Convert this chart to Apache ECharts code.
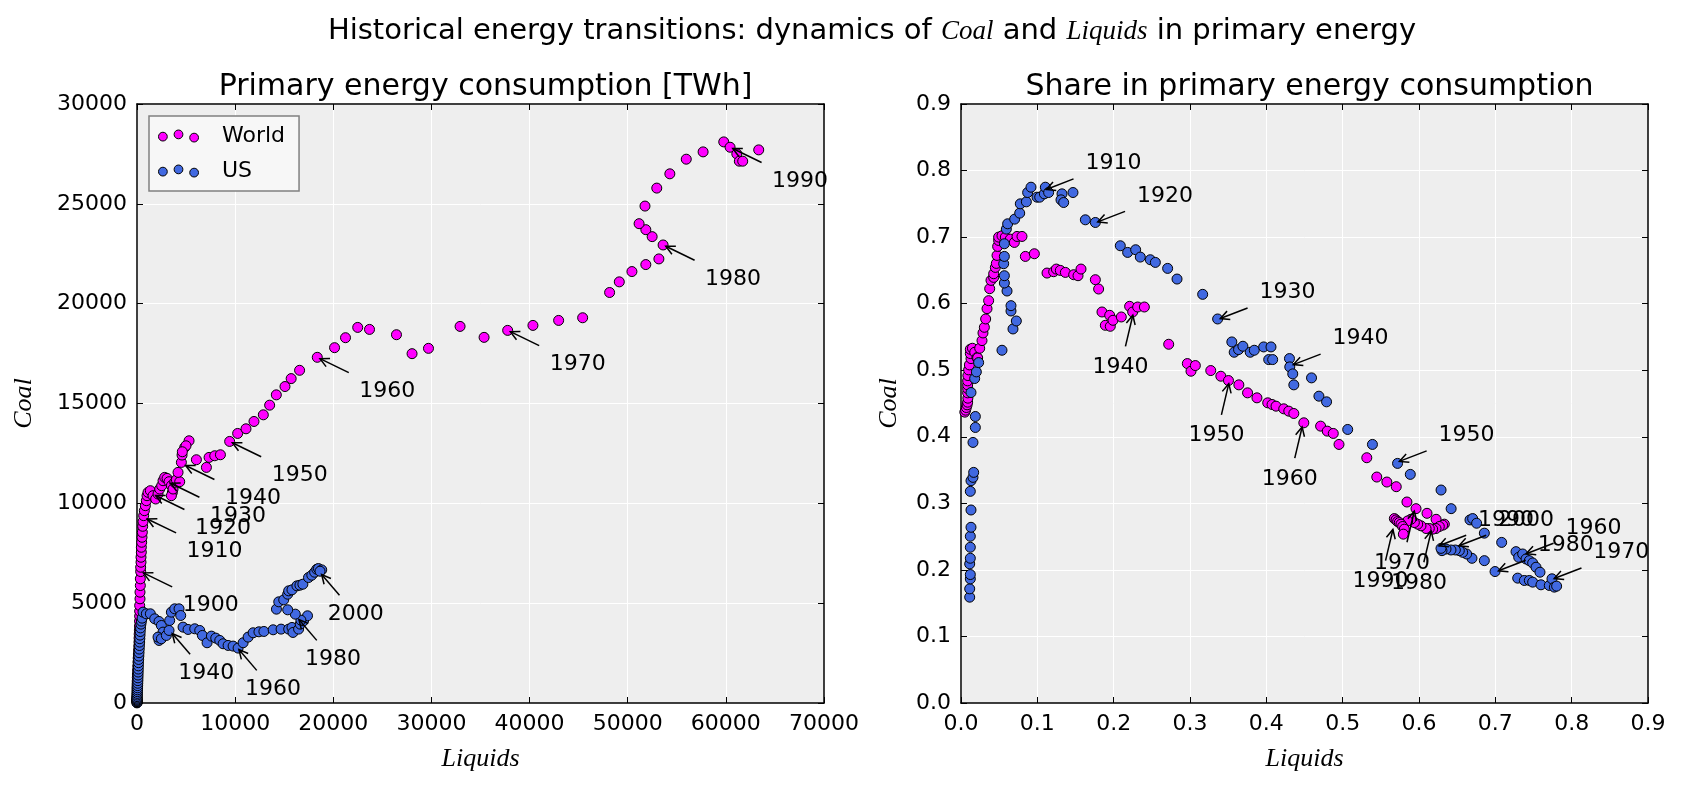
<!DOCTYPE html>
<html>
<head>
<meta charset="utf-8">
<title>Coal and Liquids</title>
<script src="https://cdn.jsdelivr.net/npm/echarts@6/dist/echarts.min.js"></script>
<style>
html, body { margin: 0; padding: 0; background: #fff; }
#main { width: 1683px; height: 788px; }
</style>
</head>
<body>
<div id="main"></div>
<script>
// [liquids, coal] in TWh
const worldTWh = [
	[0, 97], [0, 120], [0, 150], [0, 190], [0, 240], [0, 300], [0, 380], [0, 470], [0, 570], [0, 680],
	[0, 800], [10, 950], [20, 1100], [30, 1280], [40, 1450], [60, 1650], [80, 1850], [100, 2050], [120, 2250], [140, 2450],
	[160, 2650], [180, 2850], [200, 3050], [210, 3250], [220, 3450], [240, 3650], [250, 3850], [260, 4100], [270, 4350], [270, 4600],
	[272, 4883], [306, 5217], [306, 5550], [340, 5883], [340, 6217],
	[374, 6583], [374, 6800], [408, 7050], [408, 7300], [442, 7550], [442, 7800], [476, 8050], [510, 8300], [544, 8550], [578, 8850], [612, 9083],
	[680, 9383], [748, 9633], [850, 9883], [952, 10133], [1020, 10383], [1122, 10550], [1360, 10633], [1632, 10383], [1904, 10217], [2142, 10467],
	[2312, 10717], [2516, 10883], [2652, 11133], [2822, 11300], [3060, 11250], [3264, 11083], [3502, 10883], [3604, 10550], [3502, 10383], [3672, 10717],
	[3842, 11050], [4012, 11183], [4352, 11083], [4182, 11550], [4522, 12050], [4590, 12417], [4862, 12800], [5304, 13133], [4992, 12883], [4619, 12583],
	[6052, 12183], [7072, 11800], [7344, 12300], [7922, 12383], [8500, 12433],
	[9441, 13100], [10256, 13500], [11105, 13733], [11920, 14100], [12871, 14433], [13516, 14917], [14195, 15433], [15078, 15850], [15708, 16247], [16567, 16663],
	[18369, 17313], [20129, 17796], [21245, 18295], [22489, 18811], [23691, 18711], [26438, 18445], [28026, 17496], [29700, 17762], [32918, 18861], [35365, 18312],
	[37768, 18662], [40343, 18911], [42961, 19161], [45408, 19294], [48155, 20560], [49142, 21092], [50429, 21608], [51845, 21958], [53176, 22241],
	[53605, 22940], [52489, 23357], [51845, 23706], [51159, 24006], [51760, 24888], [52961, 25788], [54292, 26503], [55966, 27236], [57682, 27602], [59785, 28102],
	[60429, 27835], [61116, 27502], [61373, 27136], [61717, 27136], [63348, 27702]
];

const usTWh = [
	[0, 5], [0, 20], [0, 40], [0, 70], [0, 100], [0, 140], [0, 190], [0, 250], [10, 320], [20, 400],
	[30, 480], [40, 570], [50, 660], [60, 760], [70, 870], [80, 990], [90, 1120], [100, 1260], [110, 1400], [120, 1550],
	[130, 1700], [140, 1860], [150, 2020], [170, 2180], [190, 2350], [210, 2520], [230, 2700], [250, 2880], [270, 3050], [290, 3220],
	[310, 3400], [330, 3580], [360, 3760], [400, 3950], [450, 4100], [520, 4250], [612, 4550],
	[952, 4467], [1360, 4467], [1802, 4217], [2244, 4083], [2482, 3883], [2652, 3550], [2244, 3133], [2142, 3300], [2482, 3217], [2992, 3383],
	[3264, 3633], [3332, 4133], [3502, 4550], [3842, 4717], [4284, 4717], [4454, 4383], [4692, 3800], [5202, 3683], [5882, 3717], [6392, 3633],
	[6664, 3383], [7140, 3017], [7582, 3350], [8024, 3250], [8432, 3133], [8772, 2967], [9282, 2883], [9792, 2850], [10302, 2750], [10812, 3017],
	[11322, 3300], [11832, 3517], [12424, 3566], [12929, 3583], [13872, 3667], [14680, 3700], [15455, 3700], [15791, 3783], [15892, 3533], [16465, 3700],
	[16633, 3950], [16970, 4117], [17374, 4367], [16700, 4150], [16128, 4450], [15354, 4667], [14209, 4700], [14444, 5067], [14949, 5167], [15354, 5450],
	[15455, 5617], [15791, 5667], [16296, 5867], [16600, 5900], [16902, 5950], [17475, 6283], [17811, 6400], [18100, 6550], [18316, 6700], [18485, 6733],
	[18822, 6667], [18650, 6600]
];

// [liquids share, coal share]
const worldShare = [
	[0.005, 0.437], [0.006, 0.440], [0.007, 0.444], [0.008, 0.448], [0.0087, 0.452], [0.009, 0.458], [0.0087, 0.466], [0.0087, 0.4725], [0.0087, 0.478], [0.0087, 0.484],
	[0.009, 0.492], [0.01, 0.5005], [0.011, 0.508], [0.0131, 0.5175], [0.0122, 0.525], [0.0122, 0.5315], [0.015, 0.533], [0.018, 0.527], [0.021, 0.519], [0.0218, 0.5185],
	[0.0245, 0.533], [0.0275, 0.5445], [0.0288, 0.556], [0.0306, 0.5645], [0.0323, 0.577], [0.0341, 0.5925], [0.0362, 0.6045], [0.0376, 0.6225], [0.0393, 0.635], [0.0428, 0.6395],
	[0.0428, 0.645], [0.045, 0.6545], [0.0463, 0.6605], [0.0472, 0.6725], [0.048, 0.686], [0.0493, 0.695], [0.0493, 0.700], [0.0537, 0.702], [0.0581, 0.700], [0.0646, 0.697],
	[0.0699, 0.692], [0.0734, 0.701], [0.0799, 0.701], [0.0843, 0.671], [0.0961, 0.675], [0.1127, 0.646], [0.1214, 0.648], [0.1249, 0.652], [0.1301, 0.650], [0.1367, 0.647],
	[0.1476, 0.6435], [0.1533, 0.642], [0.1572, 0.652], [0.176, 0.636], [0.1803, 0.622], [0.1847, 0.5875], [0.1948, 0.5825], [0.1891, 0.5675], [0.1956, 0.566], [0.1991, 0.575],
	[0.21, 0.58], [0.2209, 0.596], [0.2249, 0.5875], [0.2314, 0.595], [0.2402, 0.595], [0.2721, 0.539], [0.2965, 0.51], [0.3013, 0.4985], [0.3070, 0.507], [0.3272, 0.4995],
	[0.3404, 0.491], [0.3504, 0.4845], [0.3640, 0.478], [0.3754, 0.466], [0.3877, 0.4585], [0.4018, 0.451], [0.4075, 0.4485], [0.4127, 0.446], [0.4228, 0.442], [0.4294, 0.4385],
	[0.4360, 0.435], [0.4491, 0.421], [0.4711, 0.416], [0.4798, 0.4085], [0.4877, 0.405], [0.4952, 0.3885], [0.5316, 0.3685], [0.5447, 0.3395], [0.5579, 0.332], [0.5702, 0.325],
	[0.5842, 0.302], [0.5961, 0.292], [0.6105, 0.285], [0.6224, 0.276], [0.6332, 0.2687], [0.631, 0.2672], [0.6266, 0.2652], [0.6223, 0.2622], [0.6179, 0.2612], [0.6135, 0.2622],
	[0.6092, 0.2622], [0.6026, 0.2662], [0.5983, 0.2687], [0.5939, 0.2711], [0.5895, 0.2761], [0.5852, 0.2736], [0.5677, 0.2771], [0.5699, 0.2751], [0.572, 0.2726], [0.5742, 0.2711],
	[0.5764, 0.2687], [0.5786, 0.2652], [0.5808, 0.2612], [0.5795, 0.2537]
];

const usShare = [
	[0.0114, 0.159], [0.0114, 0.1715], [0.0122, 0.1865], [0.0122, 0.193], [0.0114, 0.209], [0.0122, 0.2175], [0.0122, 0.234], [0.0122, 0.2505], [0.0131, 0.264], [0.0131, 0.29],
	[0.0122, 0.318], [0.0131, 0.334], [0.0157, 0.339], [0.0166, 0.3465], [0.0157, 0.3915], [0.0188, 0.414], [0.0188, 0.4305], [0.0131, 0.4665], [0.0179, 0.4875], [0.0201, 0.4975],
	[0.0231, 0.5115], [0.0537, 0.530], [0.0681, 0.562], [0.0725, 0.574], [0.0655, 0.589], [0.0655, 0.597], [0.0603, 0.619], [0.0568, 0.631], [0.0568, 0.642], [0.0559, 0.660],
	[0.0568, 0.671], [0.0568, 0.690], [0.0594, 0.712], [0.0611, 0.720], [0.0703, 0.727], [0.0769, 0.736], [0.0777, 0.750], [0.0856, 0.753], [0.0873, 0.767], [0.0917, 0.775],
	[0.0996, 0.760], [0.1031, 0.760], [0.1092, 0.765], [0.1105, 0.775], [0.1148, 0.767], [0.1323, 0.765], [0.1310, 0.756], [0.1345, 0.752], [0.1467, 0.767], [0.1629, 0.726],
	[0.1760, 0.722], [0.2087, 0.687], [0.2183, 0.677], [0.2288, 0.681], [0.2349, 0.670], [0.2480, 0.666], [0.2546, 0.662], [0.2707, 0.653], [0.2830, 0.637], [0.3166, 0.614],
	[0.3362, 0.577], [0.3548, 0.5425], [0.3579, 0.527], [0.3636, 0.531], [0.3693, 0.536], [0.3789, 0.527], [0.3842, 0.530], [0.3965, 0.535], [0.4061, 0.535], [0.4031, 0.516],
	[0.4083, 0.516], [0.4303, 0.5175], [0.4307, 0.505], [0.4346, 0.4945], [0.4360, 0.478], [0.4592, 0.4885], [0.4689, 0.461], [0.4789, 0.4525], [0.5066, 0.411], [0.5390, 0.3885],
	[0.5719, 0.360], [0.5886, 0.3435], [0.6289, 0.320], [0.6421, 0.292], [0.6668, 0.2751], [0.6703, 0.2771], [0.6755, 0.2701], [0.6856, 0.2552], [0.7083, 0.2413], [0.7271, 0.2274],
	[0.7306, 0.2189], [0.7358, 0.2239], [0.7402, 0.2164], [0.7445, 0.2139], [0.7489, 0.2104], [0.7533, 0.204], [0.7585, 0.1965], [0.7293, 0.1876], [0.738, 0.1841], [0.7445, 0.1841],
	[0.7489, 0.1816], [0.7598, 0.1776], [0.7707, 0.1766], [0.7742, 0.1866], [0.7773, 0.1741], [0.7803, 0.1756], [0.6996, 0.1975], [0.6856, 0.2139], [0.6694, 0.2174], [0.6624, 0.2239],
	[0.6572, 0.2264], [0.6528, 0.2289], [0.6476, 0.2299], [0.6419, 0.2299], [0.6354, 0.2313], [0.6301, 0.2289], [0.6288, 0.2323]
];

// annotated years: [liquids, coal, label]
const worldTWhYears = [
	[374, 6583, '1900'], [775, 9283, '1910'], [1622, 10456, '1920'], [3150, 11072, '1930'], [4679, 11960, '1940'],
	[9441, 13100, '1950'], [18369, 17313, '1960'], [37768, 18662, '1970'], [53605, 22940, '1980'], [60429, 27835, '1990']
];
const usTWhYears = [[3395, 3593, '1940'], [10184, 2791, '1960'], [16300, 4294, '1980'], [18614, 6548, '2000']];
const worldShareYears = [
	[0.226, 0.587, '1940'], [0.3517, 0.4842, '1950'], [0.4478, 0.4191, '1960'],
	[0.5948, 0.2928, '1970'], [0.6169, 0.2627, '1980'], [0.5667, 0.2651, '1990']
];
const usShareYears = [
	[0.108, 0.770, '1910'], [0.1755, 0.7212, '1920'], [0.336, 0.576, '1930'], [0.4317, 0.5068, '1940'], [0.5706, 0.3614, '1950'],
	[0.7368, 0.2226, '1960'], [0.7734, 0.1854, '1970'], [0.7004, 0.197, '1980'], [0.6224, 0.2346, '1990'], [0.6486, 0.2346, '2000']
];

const magenta = '#ff00ff';
const royal = '#4169e1';
const threeDots = 'path://M0.5,7.3a4.5,4.5 0 1,0 9,0a4.5,4.5 0 1,0 -9,0zM16.5,5a4.5,4.5 0 1,0 9,0a4.5,4.5 0 1,0 -9,0zM32.5,8.3a4.5,4.5 0 1,0 9,0a4.5,4.5 0 1,0 -9,0z';

var chart = echarts.init(document.getElementById('main'), null, { width: 1683, height: 788 });

function dot(color) {
	return { color: color, borderColor: '#000', borderWidth: 1, opacity: 1 };
}

function mainAxis(grid, pos, max, step, digits, nameGap) {
	return {
		type: 'value', gridIndex: grid, position: pos, min: 0, max: max, interval: step,
		name: pos === 'bottom' ? 'Liquids' : 'Coal',
		nameLocation: 'middle', nameGap: nameGap,
		nameTextStyle: { fontFamily: 'Liberation Serif', fontStyle: 'italic', fontSize: 26, color: '#000' },
		axisLine: { show: true, onZero: false, lineStyle: { color: '#000', width: 1.5 } },
		axisTick: { show: true, inside: true, length: 6, lineStyle: { color: '#000', width: 1 } },
		axisLabel: {
			margin: 10, fontSize: 22, color: '#000', fontFamily: 'DejaVu Sans',
			formatter: function (v) { return v.toFixed(digits); }
		},
		splitLine: { show: true, lineStyle: { color: '#fff', width: 1 } }
	};
}

function mirrorAxis(grid, pos, max, step) {
	return {
		type: 'value', gridIndex: grid, position: pos, min: 0, max: max, interval: step,
		axisLine: { show: true, onZero: false, lineStyle: { color: '#000', width: 1.5 } },
		axisTick: { show: true, inside: true, length: 6, lineStyle: { color: '#000', width: 1 } },
		axisLabel: { show: false },
		splitLine: { show: false }
	};
}

// text placed at (tx, ty) px from the point, arrow "->" running from part way toward the point
function annotations(items, xi, yi, tx, ty, f) {
	return {
		type: 'custom', xAxisIndex: xi, yAxisIndex: yi, clip: false, silent: true, z: 5,
		data: items.map(function (d) { return [d[0], d[1]]; }),
		renderItem: function (params, api) {
			var p = api.coord([api.value(0), api.value(1)]);
			var sx = p[0] + tx * f, sy = p[1] + ty * f;
			var dx = p[0] - sx, dy = p[1] - sy;
			var len = Math.sqrt(dx * dx + dy * dy);
			dx /= len; dy /= len;
			var ex = p[0] - dx * 3, ey = p[1] - dy * 3;
			var bx = ex - dx * 9, by = ey - dy * 9;
			return {
				type: 'group',
				children: [{
					type: 'line',
					shape: { x1: sx, y1: sy, x2: ex, y2: ey },
					style: { stroke: '#000', lineWidth: 1.5 }
				}, {
					type: 'polyline',
					shape: { points: [[bx - dy * 4.5, by + dx * 4.5], [ex, ey], [bx + dy * 4.5, by - dx * 4.5]] },
					style: { stroke: '#000', lineWidth: 1.5, fill: null }
				}, {
					type: 'text',
					style: {
						text: items[params.dataIndex][2], x: p[0] + tx, y: p[1] + ty,
						align: 'center', verticalAlign: 'middle',
						fontSize: 22, fontFamily: 'DejaVu Sans', fill: '#000'
					}
				}]
			};
		}
	};
}

option = {
	backgroundColor: '#fff',
	animation: false,
	title: [{
		text: '{n|Historical energy transitions: dynamics of }{m|Coal}{n| and }{m|Liquids}{n| in primary energy}',
		left: 867, top: 12, textAlign: 'center',
		textStyle: {
			fontWeight: 'normal',
			rich: {
				n: { fontSize: 29, fontWeight: 'normal', fontFamily: 'DejaVu Sans', color: '#000' },
				m: { fontSize: 27, fontWeight: 'normal', fontFamily: 'Liberation Serif', fontStyle: 'italic', color: '#000' }
			}
		}
	}, {
		text: 'Primary energy consumption [TWh]',
		left: 480.5, top: 67, textAlign: 'center',
		textStyle: { fontSize: 30, fontWeight: 'normal', fontFamily: 'DejaVu Sans', color: '#000' }
	}, {
		text: 'Share in primary energy consumption',
		left: 1304.5, top: 67, textAlign: 'center',
		textStyle: { fontSize: 30, fontWeight: 'normal', fontFamily: 'DejaVu Sans', color: '#000' }
	}],
	legend: {
		data: [
			{ name: 'World', icon: threeDots, itemStyle: dot(magenta) },
			{ name: 'US', icon: threeDots, itemStyle: dot(royal) }
		],
		orient: 'vertical', left: 149, top: 116,
		padding: [8, 14, 8, 9], itemGap: 11, itemWidth: 41, itemHeight: 12,
		backgroundColor: '#f7f7f7', borderColor: '#808080', borderWidth: 1.5,
		selectedMode: false,
		textStyle: { fontSize: 22, fontFamily: 'DejaVu Sans', color: '#000', lineHeight: 24, padding: [0, 0, 0, 18] }
	},
	grid: [
		{ left: 137, top: 104, width: 687, height: 599, show: true, backgroundColor: '#eeeeee', borderWidth: 0 },
		{ left: 961, top: 104, width: 687, height: 599, show: true, backgroundColor: '#eeeeee', borderWidth: 0 }
	],
	xAxis: [
		mainAxis(0, 'bottom', 70000, 10000, 0, 43),
		mirrorAxis(0, 'top', 70000, 10000),
		mainAxis(1, 'bottom', 0.9, 0.1, 1, 43),
		mirrorAxis(1, 'top', 0.9, 0.1)
	],
	yAxis: [
		mainAxis(0, 'left', 30000, 5000, 0, 100),
		mirrorAxis(0, 'right', 30000, 5000),
		mainAxis(1, 'left', 0.9, 0.1, 1, 59),
		mirrorAxis(1, 'right', 0.9, 0.1)
	],
	series: [
		{ name: 'World', type: 'scatter', xAxisIndex: 0, yAxisIndex: 0, symbolSize: 10, itemStyle: dot(magenta), data: worldTWh },
		{ name: 'US', type: 'scatter', xAxisIndex: 0, yAxisIndex: 0, symbolSize: 10, itemStyle: dot(royal), data: usTWh },
		{ name: 'World', type: 'scatter', xAxisIndex: 2, yAxisIndex: 2, symbolSize: 10, itemStyle: dot(magenta), data: worldShare },
		{ name: 'US', type: 'scatter', xAxisIndex: 2, yAxisIndex: 2, symbolSize: 10, itemStyle: dot(royal), data: usShare },
		annotations(worldTWhYears, 0, 0, 70, 34, 0.45),
		annotations(usTWhYears, 0, 0, 36, 42, 0.55),
		annotations(worldShareYears, 2, 2, -13, 55, 0.62),
		annotations(usShareYears, 2, 2, 70, -27, 0.43)
	]
};

chart.setOption(option);
</script>
</body>
</html>
